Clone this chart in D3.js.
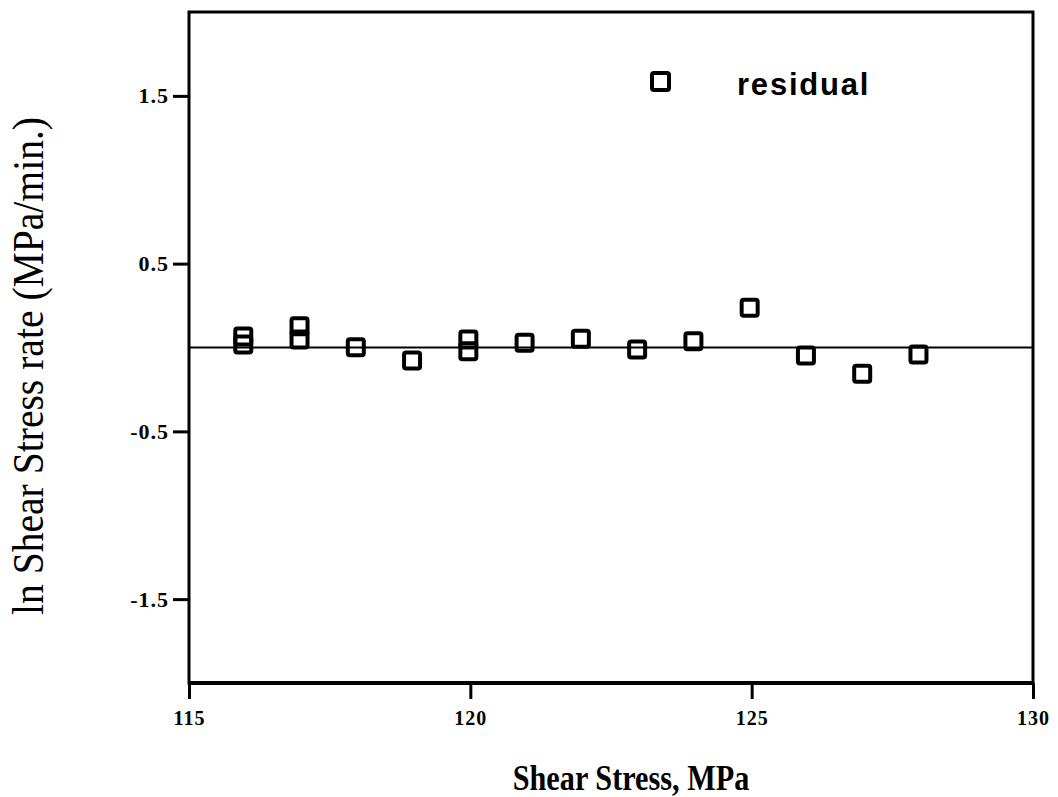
<!DOCTYPE html>
<html>
<head>
<meta charset="utf-8">
<script src="https://cdn.jsdelivr.net/npm/d3@7"></script>
<style>
  body { margin: 0; background: #fff; }
  svg { display: block; }
  .tick_label { font-family: "Liberation Serif", "Times New Roman", serif; font-weight: bold; font-size: 20px; letter-spacing: 1px; }
  .y_label { font-size: 22px; }
</style>
</head>
<body>
<div id="chart"></div>
<script>
// residuals
var shear_stress = [116, 116, 117, 117, 118, 119, 120, 120, 121, 122, 123, 124, 125, 126, 127, 128]
var residual = [0.066, 0.018, 0.127, 0.048, 0.002, -0.078, 0.048, -0.022, 0.028, 0.052, -0.012, 0.038, 0.237, -0.048, -0.157, -0.042]
var x_ticks = [115, 120, 125, 130]
var y_ticks = [1.5, 0.5, -0.5, -1.5]

var width = 1058, height = 797
var plot = { "left": 189, "right": 1033, "top": 12, "bottom": 683 }

var svg = d3.select("#chart").append("svg")
  .attr("width", width)
  .attr("height", height)

var x = d3.scaleLinear().domain([115, 130]).range([plot.left, plot.right])
var y = d3.scaleLinear().domain([-2, 2]).range([plot.bottom, plot.top])

// frame
svg.append("rect")
  .attr("x", plot.left)
  .attr("y", plot.top)
  .attr("width", plot.right - plot.left)
  .attr("height", plot.bottom - plot.top)
  .attr("fill", "none")
  .attr("stroke", "#000")
  .attr("stroke-width", 3)
svg.append("line")
  .attr("x1", plot.left).attr("x2", plot.right)
  .attr("y1", plot.bottom).attr("y2", plot.bottom)
  .attr("stroke", "#000").attr("stroke-width", 4)

// x axis
var xAxis = svg.append("g")
  .attr("transform", "translate(0," + plot.bottom + ")")
  .call(d3.axisBottom(x).tickValues(x_ticks).tickSize(16).tickPadding(12).tickFormat(d3.format("d")))
xAxis.select(".domain").remove()
xAxis.selectAll(".tick line").attr("stroke-width", 3)
xAxis.selectAll(".tick text").attr("class", "tick_label").attr("fill", "#000")

// y axis, plain hyphen for negatives like the original
var yAxis = svg.append("g")
  .attr("transform", "translate(" + plot.left + ",0)")
  .call(d3.axisLeft(y).tickValues(y_ticks).tickSize(16).tickPadding(4)
    .tickFormat(function(d) { return d.toFixed(1) }))
yAxis.select(".domain").remove()
yAxis.selectAll(".tick line").attr("stroke-width", 3)
yAxis.selectAll(".tick text").attr("class", "tick_label y_label").attr("fill", "#000")

// zero line
svg.append("line")
  .attr("x1", x(115)).attr("x2", x(130))
  .attr("y1", y(0)).attr("y2", y(0))
  .attr("stroke", "#000").attr("stroke-width", 2)

// points
var box = 16
svg.append("g").selectAll("rect")
  .data(shear_stress)
  .join("rect")
    .attr("x", function(d) { return x(d) - 2 - box / 2 })
    .attr("y", function(d, i) { return y(residual[i]) - box / 2 })
    .attr("width", box)
    .attr("height", box)
    .attr("rx", 2)
    .attr("fill", "none")
    .attr("stroke", "#000")
    .attr("stroke-width", 4)

// legend
svg.append("rect")
  .attr("x", 652).attr("y", 73)
  .attr("width", 17).attr("height", 17)
  .attr("rx", 2)
  .attr("fill", "none").attr("stroke", "#000").attr("stroke-width", 4)
svg.append("text")
  .attr("x", 737).attr("y", 95)
  .attr("font-family", "'Liberation Sans', Arial, sans-serif")
  .attr("font-weight", "bold")
  .attr("font-size", 31)
  .attr("letter-spacing", 1.8)
  .text("residual")

// axis titles (the original type is tall and narrow)
svg.append("text")
  .attr("transform", "translate(631,790) scale(0.84,1)")
  .attr("text-anchor", "middle")
  .attr("font-family", "'Liberation Serif', 'Times New Roman', serif")
  .attr("font-weight", "bold")
  .attr("font-size", 36)
  .text("Shear Stress, MPa")
svg.append("text")
  .attr("transform", "translate(43,366) rotate(-90) scale(0.9,1)")
  .attr("text-anchor", "middle")
  .attr("font-family", "'Liberation Serif', 'Times New Roman', serif")
  .attr("font-size", 44)
  .text("ln Shear Stress rate (MPa/min.)")
</script>
</body>
</html>
